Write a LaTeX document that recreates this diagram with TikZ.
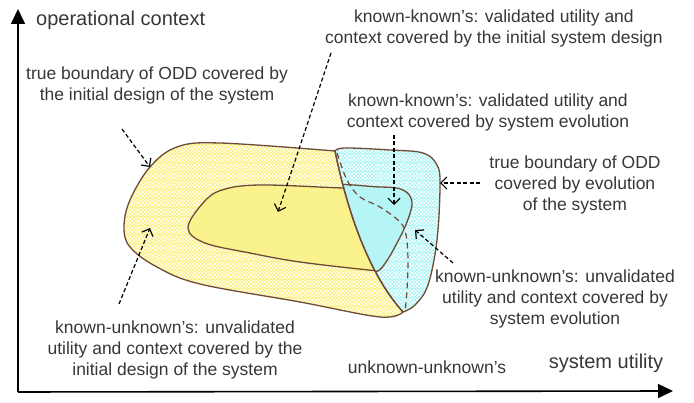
\documentclass[tikz,border=0pt]{standalone}
\usepackage{fontspec}
\setmainfont{Liberation Sans}
\usetikzlibrary{arrows.meta}
\definecolor{oddyellow}{RGB}{250,242,140}
\definecolor{oddcyan}{RGB}{182,245,245}
\definecolor{oddbrown}{RGB}{110,75,55}
\definecolor{oddtext}{RGB}{55,55,55}
\begin{document}
\begin{tikzpicture}[x=1pt,y=-1pt,
  lbl/.style={text=oddtext,font=\fontsize{17.5}{21}\selectfont,align=center,inner sep=0pt},
  axlbl/.style={text=oddtext,font=\fontsize{20}{24}\selectfont,inner sep=0pt},
  pointer/.style={dash pattern=on 4pt off 2.5pt,line width=1.2pt,-{Straight Barb[length=6pt,width=12pt]}},
  axis/.style={line width=1.6pt,-{Triangle[length=15pt,width=14pt]}},
  rim/.style={draw=oddbrown,line width=1.3pt},
  speck/.style={draw=white,opacity=0.8,line width=1.7pt,dash pattern=on 1.7pt off 1.9pt}]
\useasboundingbox (0,0) rectangle (694,403);
% outer regions
\path[save path=\outeryellow] (335,151) .. controls (345,200) and (365,270) .. (403,312)
  -- plot[smooth,tension=0.6] coordinates {(403,312) (380,317) (300,302) (200,284) (157,267) (130,247) (124,227) (130,200) (150,167) (177,147) (220,143) (335,151)} -- cycle;
\path[save path=\outercyan] (335,151) -- plot[smooth,tension=0.6] coordinates {(335,151) (345,148) (390,150) (423,153) (437,165) (440,185) (437,240) (428,285) (415,305) (403,312)}
  .. controls (365,270) and (345,200) .. (335,151) -- cycle;
\fill[oddyellow,use path=\outeryellow];
\fill[oddcyan,use path=\outercyan];
% white specks on the outer rings
\begin{scope}
\clip[use path=\outeryellow];
\foreach \j in {0,...,50} {
  \draw[speck] (115,140+3.6*\j) -- (410,140+3.6*\j);
  \draw[speck,dash phase=1.8pt] (115,141.8+3.6*\j) -- (410,141.8+3.6*\j);
}
\end{scope}
\begin{scope}
\clip[use path=\outercyan];
\foreach \j in {0,...,50} {
  \draw[speck] (328,140+3.6*\j) -- (445,140+3.6*\j);
  \draw[speck,dash phase=1.8pt] (328,141.8+3.6*\j) -- (445,141.8+3.6*\j);
}
\end{scope}
% inner regions
\begin{scope}
\clip[use path=\outeryellow];
\filldraw[rim,fill=oddyellow] plot[smooth cycle,tension=0.6] coordinates {(188,228) (205,243) (250,253) (300,262) (378,271) (425,275) (430,230) (420,190) (343,188) (260,185) (222,190) (203,203)};
\end{scope}
\begin{scope}
\clip[use path=\outercyan];
\filldraw[rim,fill=oddcyan] plot[smooth cycle,tension=0.6] coordinates {(320,188) (380,187) (403,190) (412,202) (407,222) (397,243) (386,262) (375,272) (345,275) (320,230)};
\end{scope}
\draw[rim,use path=\outeryellow];
\draw[rim,use path=\outercyan];
\draw[oddbrown,line width=1.2pt,dash pattern=on 6pt off 4pt] plot[smooth,tension=0.6] coordinates {(337,153) (347,180) (360,197) (380,207) (400,222) (406,235) (408,260) (407,290) (405,312)};
% axes
\coordinate (origin) at (18,392);
\coordinate (ytip) at (18,9);
\coordinate (xtip) at (673,391);
\draw[axis] (origin) -- (ytip);
\draw[axis] (origin) -- (xtip);
\node[axlbl,anchor=west] (ctx) at (36,20) {operational context};
\node[axlbl] (util) at (606,363) {system utility};
% labels
\node[lbl] (tbInit) at (157,85) {true boundary of ODD covered by\\the initial design of the system};
\node[lbl] (kkInit) at (494,28) {known-known’s: validated utility and\\context covered by the initial system design};
\node[lbl] (kkEvo) at (488,112) {known-known’s: validated utility and\\context covered by system evolution};
\node[lbl] (tbEvo) at (575,185) {true boundary of ODD\\covered by evolution\\of the system};
\node[lbl] (kuEvo) at (555,299) {known-unknown’s: unvalidated\\utility and context covered by\\system evolution};
\node[lbl] (kuInit) at (175,350) {known-unknown’s: unvalidated\\utility and context covered by the\\initial design of the system};
\node[lbl] (uu) at (427,367) {unknown-unknown’s};
% pointers
\coordinate (tbInitFrom) at (122,129);
\coordinate (tbInitTo) at (150,167);
\coordinate (kkInitFrom) at (331,53);
\coordinate (kkInitTo) at (278,212);
\coordinate (kkEvoFrom) at (394,135);
\coordinate (kkEvoTo) at (394,205);
\coordinate (tbEvoFrom) at (480,183);
\coordinate (tbEvoTo) at (440,183);
\coordinate (kuEvoFrom) at (453,263);
\coordinate (kuEvoTo) at (415,230);
\coordinate (kuInitFrom) at (119,304);
\coordinate (kuInitTo) at (150,228);
\draw[pointer] (tbInitFrom) -- (tbInitTo);
\draw[pointer] (kkInitFrom) -- (kkInitTo);
\draw[pointer] (kkEvoFrom) -- (kkEvoTo);
\draw[pointer] (tbEvoFrom) -- (tbEvoTo);
\draw[pointer] (kuEvoFrom) -- (kuEvoTo);
\draw[pointer] (kuInitFrom) -- (kuInitTo);
\end{tikzpicture}
\end{document}
